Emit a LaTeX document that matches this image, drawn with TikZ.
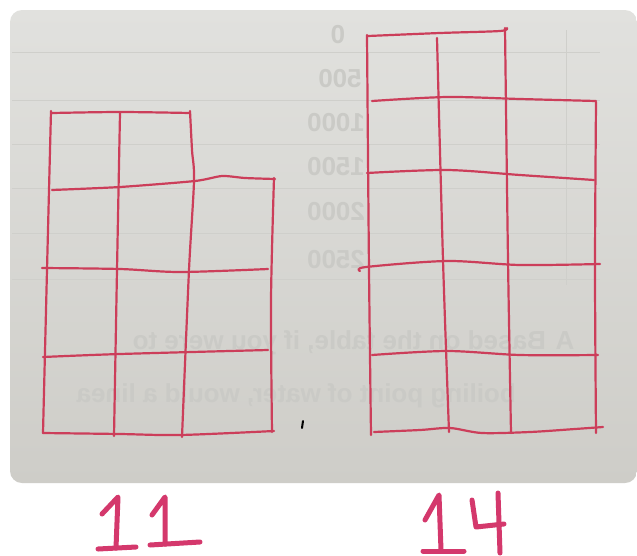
\documentclass[tikz,border=0pt]{standalone}
\usepackage{fontspec}
\setmainfont{Liberation Sans}
\definecolor{paperT}{RGB}{225,225,222}
\definecolor{paperM}{RGB}{217,217,213}
\definecolor{paperB}{RGB}{206,205,200}
\definecolor{gridred}{RGB}{204,62,90}
\definecolor{labelpink}{RGB}{212,56,108}
\definecolor{bleed}{RGB}{202,202,198}
\definecolor{faintline}{RGB}{207,207,203}
\tikzset{
  gridline/.style={draw=gridred, line width=2.2pt, line cap=round, line join=round},
  digit/.style={draw=labelpink, line width=5pt, line cap=round, line join=round},
  bleedtext/.style={text=bleed, font=\bfseries\fontsize{26}{26}\selectfont, inner sep=0pt, xscale=-1},
  tableline/.style={draw=faintline, line width=1pt}
}
\begin{document}
\begin{tikzpicture}[x=1pt,y=-1pt]
\useasboundingbox (0,0) rectangle (637,555);
\fill[white] (0,0) rectangle (637,555);
% paper photo
\shade[top color=paperT, middle color=paperM, bottom color=paperB, rounded corners=12pt] (10,10) rectangle (637,483);
% faint bleed-through table lines
\foreach \yy in {52,100,144,188,233,279} \draw[tableline] (12,\yy) -- (600,\yy);
\draw[tableline] (566,30) -- (566,285);
% faint bleed-through text (mirrored)
\node[bleedtext, anchor=center] (n0) at (338,35) {0};
\node[bleedtext, anchor=center] (n1) at (340,79) {500};
\node[bleedtext, anchor=center] (n2) at (336,123) {1000};
\node[bleedtext, anchor=center] (n3) at (336,167) {1500};
\node[bleedtext, anchor=center] (n4) at (336,212) {2000};
\node[bleedtext, anchor=center] (n5) at (336,260) {2500};
\node[bleedtext, anchor=center] (qa) at (565,341) {A};
\node[bleedtext, anchor=west] (q1) at (546,343) {Based on the table, if you were to};
\node[bleedtext, anchor=west] (q2) at (516,396) {boiling point of water, would a linea};
% left figure (11)
\draw[gridline] plot[smooth, tension=0.5] coordinates {(51,111) (47,270) (43,433)};
\draw[gridline] plot[smooth, tension=0.5] coordinates {(120,113) (117,270) (114,436)};
\draw[gridline] plot[smooth, tension=0.5] coordinates {(190,111) (192,150) (194,181) (189,270) (182,437)};
\draw[gridline] plot[smooth, tension=0.5] coordinates {(274,178) (271,300) (272,432)};
\draw[gridline] plot[smooth, tension=0.5] coordinates {(52,113) (120,112) (190,113)};
\draw[gridline] plot[smooth, tension=0.4] coordinates {(52,190) (120,187) (195,181) (222,176) (245,178) (275,179)};
\draw[gridline] plot[smooth, tension=0.5] coordinates {(42,268) (120,269) (180,272) (268,269)};
\draw[gridline] plot[smooth, tension=0.5] coordinates {(43,357) (120,354) (268,350)};
\draw[gridline] plot[smooth, tension=0.5] coordinates {(43,433) (120,434) (180,435) (274,431)};
% right figure (14)
\draw[gridline] plot[smooth, tension=0.5] coordinates {(367,35) (369,270) (371,435)};
\draw[gridline] plot[smooth, tension=0.5] coordinates {(437,38) (443,260) (449,432)};
\draw[gridline] plot[smooth, tension=0.5] coordinates {(505,28) (508,260) (511,433)};
\draw[gridline] plot[smooth, tension=0.5] coordinates {(596,102) (595,270) (596,433)};
\draw[gridline] plot[smooth, tension=0.5] coordinates {(368,36) (440,33) (500,31) (507,28)};
\draw[gridline] plot[smooth, tension=0.5] coordinates {(372,101) (447,97) (520,99) (596,101)};
\draw[gridline] plot[smooth, tension=0.5] coordinates {(367,173) (447,170) (520,175) (594,180)};
\draw[gridline] plot[smooth, tension=0.5] coordinates {(360,271) (366,267) (447,261) (520,265) (600,264)};
\draw[gridline] plot[smooth, tension=0.5] coordinates {(372,355) (447,351) (520,355) (598,355)};
\draw[gridline] plot[smooth, tension=0.5] coordinates {(374,432) (420,430) (450,428) (482,433) (530,432) (575,429) (603,427)};
% small comma mark
\draw[black, line width=2pt, line cap=round] (303,421) -- (302,428);
% label 11
\draw[digit] (102,514) -- (118,497) -- (116,548);
\draw[digit] (98,549) -- (136,547);
\draw[digit] (152,515) -- (165,497) -- (165,544);
\draw[digit] (150,545) -- (200,542);
% label 14
\draw[digit] (425,520) -- (439,495) -- (441,550);
\draw[digit] (423,551) -- (464,551);
\draw[digit] (472,500) -- (476,527) -- (504,524);
\draw[digit] (498,493) -- (500,553);
\end{tikzpicture}
\end{document}
